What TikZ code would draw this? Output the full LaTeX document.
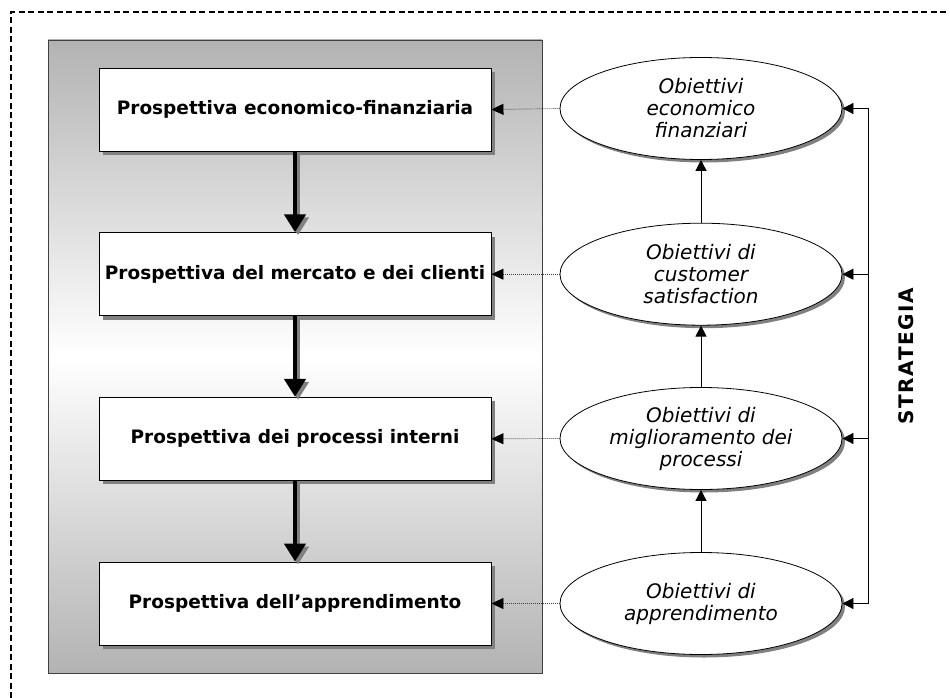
\documentclass[tikz,border=0pt]{standalone}
\usepackage{fontspec}
\setmainfont{DejaVu Sans}
\usetikzlibrary{shapes.geometric,shadows,arrows.meta}

\begin{document}
\begin{tikzpicture}[x=1pt,y=-1pt,
  frame/.style={line width=1.5pt, dash pattern=on 6pt off 3.5pt},
  panel/.style={draw=black!75, line width=0.9pt,
    top color=black!30, bottom color=black!30, middle color=white,
    minimum width=494pt, minimum height=633pt, inner sep=0pt},
  pbox/.style={draw=black, line width=0.9pt, fill=white,
    minimum width=392pt, minimum height=83pt, inner sep=0pt,
    font=\bfseries\fontsize{18.5}{22}\selectfont,
    drop shadow={shadow xshift=4pt, shadow yshift=-4pt, fill=black!50, opacity=1}},
  obj/.style={ellipse, draw=black, line width=0.8pt, fill=white,
    minimum width=282pt, minimum height=102pt, inner sep=0pt, align=center,
    font=\itshape\fontsize{20}{22}\selectfont,
    drop shadow={shadow xshift=3pt, shadow yshift=-3pt, fill=black!50, opacity=1}},
  bigarrow/.style={line width=4.5pt, -{Triangle[width=21pt,length=18pt]}},
  bigshadow/.style={bigarrow, black!50},
  link/.style={black!75, line width=0.7pt, dash pattern=on 1pt off 1pt,
    -{Triangle[width=11pt,length=12pt,black]}},
  thinarrow/.style={line width=0.8pt, -{Triangle[width=11pt,length=11pt]}},
  label/.style={font=\bfseries\fontsize{20}{22}\selectfont\addfontfeatures{LetterSpace=8}}
]
\useasboundingbox (0,0) rectangle (950,698);

% outer dashed frame (top and left edges)
\draw[frame] (11,698) -- (11,12) -- (950,12);

% shaded panel holding the four perspectives
\node[panel] (panel) at (295,356.5) {};

% perspectives
\node[pbox] (p1) at (295,109.5) {Prospettiva economico-finanziaria};
\node[pbox] (p2) at (295,274.2) {Prospettiva del mercato e dei clienti};
\node[pbox] (p3) at (295,438.8) {Prospettiva dei processi interni};
\node[pbox] (p4) at (295,603.5) {Prospettiva dell’apprendimento};

% cascade between perspectives (shadow first, then arrow)
\foreach \a/\b in {p1/p2,p2/p3,p3/p4}{
  \draw[bigshadow] ([xshift=3pt,yshift=-3pt]\a.south) -- ([xshift=3pt,yshift=-3pt]\b.north);
  \draw[bigarrow] (\a.south) -- (\b.north);
}

% objectives
\node[obj] (o1) at (701,108.5) {Obiettivi\\economico\\finanziari};
\node[obj] (o2) at (701,274.2) {Obiettivi di\\customer\\satisfaction};
\node[obj] (o3) at (701,438.5) {Obiettivi di\\miglioramento dei\\processi};
\node[obj] (o4) at (701,603.5) {Obiettivi di\\apprendimento};

% objectives feed their perspectives
\foreach \o/\p in {o1/p1,o2/p2,o3/p3,o4/p4}
  \draw[link] (\o.west) -- (\p.east);

% objectives build on each other
\draw[thinarrow] (o4.north) -- (o3.south);
\draw[thinarrow] (o3.north) -- (o2.south);
\draw[thinarrow] (o2.north) -- (o1.south);

% strategy bracket
\coordinate (bx) at (868,0);
\draw[line width=0.8pt] (o1.east -| bx) -- (o4.east -| bx);
\foreach \o in {o1,o2,o3,o4}
  \draw[thinarrow] (\o.east -| bx) -- (\o.east);

\node[label, rotate=90] (strat) at (906,356) {STRATEGIA};
\end{tikzpicture}
\end{document}
